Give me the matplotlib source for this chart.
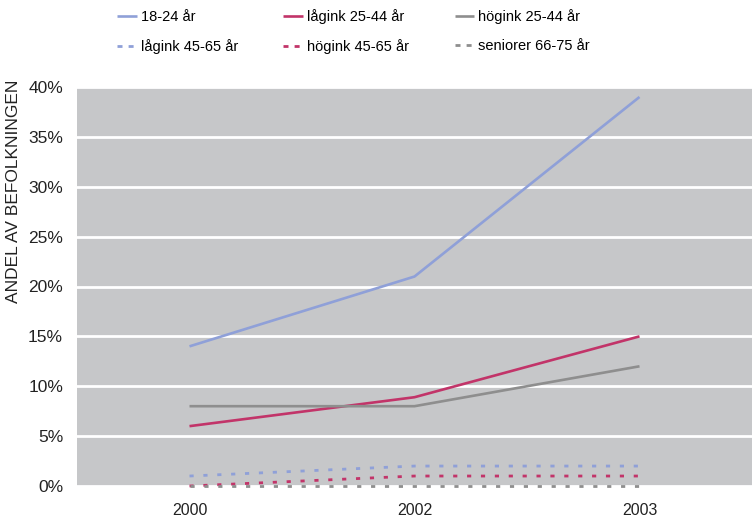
import numpy as np
from matplotlib import pyplot as plt

plt.rcParams['font.family'] = ['Liberation Sans', 'DejaVu Sans']

# Data
years = ["2000", "2002", "2003"]
ung_18_24 = [14, 21, 39]
lagink_25_44 = [6, 8.9, 15]
hogink_25_44 = [8, 8, 12]
lagink_45_65 = [1, 2, 2]
hogink_45_65 = [0, 1, 1]
seniorer_66_75 = [0, 0, 0]
yticks = [0, 5, 10, 15, 20, 25, 30, 35, 40]

blue = "#8fa0d8"
red = "#c23469"
grey = "#8e8e8e"

fig = plt.figure(figsize=(7.52, 5.20), dpi=100)
ax = fig.add_axes([77 / 752, 34 / 520, 675 / 752, 399 / 520])
ax.set_facecolor("#c6c7c9")

x = np.arange(len(years))

solid = dict(linewidth=1.9, solid_capstyle="butt")
dotted = dict(linewidth=2.0, dashes=(1.5, 3.5), clip_on=False)

l1, = ax.plot(x, ung_18_24, color=blue, label="18-24 år", **solid)
l2, = ax.plot(x, lagink_25_44, color=red, label="lågink 25-44 år", **solid)
l3, = ax.plot(x, hogink_25_44, color=grey, label="högink 25-44 år", **solid)
l4, = ax.plot(x, lagink_45_65, color=blue, label="lågink 45-65 år", **dotted)
l5, = ax.plot(x, hogink_45_65, color=red, label="högink 45-65 år", **dotted)
l6, = ax.plot(x, seniorer_66_75, color=grey, label="seniorer 66-75 år", **dotted)

ax.set_xlim(-0.5, 2.5)
ax.set_ylim(0, 40)
ax.set_xticks(x)
ax.set_xticklabels(years, fontsize=11.5)
ax.set_yticks(yticks)
ax.set_yticklabels([f"{v}%" for v in yticks], fontsize=12.5)
ax.yaxis.grid(True, color="white", linewidth=2)
ax.set_axisbelow(True)
ax.tick_params(length=0, colors="#222222")
ax.tick_params(axis="x", pad=12)
ax.tick_params(axis="y", pad=10)
for s in ax.spines.values():
    s.set_visible(False)

fig.text(14 / 752, 1 - 191 / 520, "ANDEL AV BEFOLKNINGEN", rotation=90,
         ha="center", va="center", fontsize=12.5, color="#222222")

# legend filled column-wise, so order the handles accordingly
handles = [l1, l4, l2, l5, l3, l6]
leg = fig.legend(handles, [h.get_label() for h in handles], ncol=3,
                 loc="upper left", bbox_to_anchor=(117 / 752, 1 - 9 / 520),
                 frameon=False, borderpad=0, borderaxespad=0, fontsize=10.5,
                 handlelength=1.37, handletextpad=0.27, columnspacing=3.1,
                 labelspacing=1.05)
# two short dashes in the legend keys, like the reference
for h in leg.get_lines()[1::2]:
    h.set_dashes((1.8, 2.2))

fig.savefig("out.png", dpi=100)
